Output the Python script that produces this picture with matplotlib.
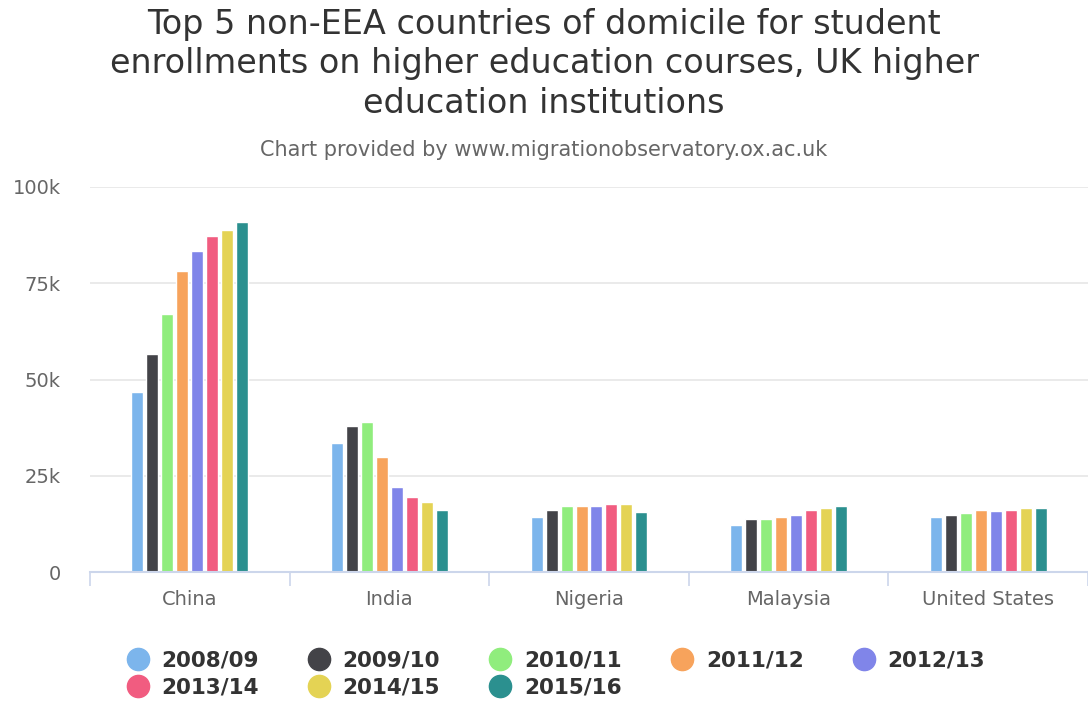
import matplotlib.pyplot as plt
import numpy as np
from matplotlib.lines import Line2D

countries = ['China', 'India', 'Nigeria', 'Malaysia', 'United States']
years = ['2008/09', '2009/10', '2010/11', '2011/12', '2012/13', '2013/14', '2014/15', '2015/16']

# values in thousands, one list per academic year
y0809 = [46.8, 33.6, 14.2, 12.3, 14.2]
y0910 = [56.5, 38.0, 16.2, 13.8, 14.8]
y1011 = [67.1, 39.0, 17.1, 13.8, 15.2]
y1112 = [78.3, 29.8, 17.1, 14.2, 16.2]
y1213 = [83.5, 22.0, 17.1, 14.7, 15.8]
y1314 = [87.4, 19.6, 17.7, 16.1, 16.2]
y1415 = [88.9, 18.1, 17.7, 16.6, 16.6]
y1516 = [90.8, 16.2, 15.7, 17.1, 16.6]
series = [y0809, y0910, y1011, y1112, y1213, y1314, y1415, y1516]

yticks = [0, 25, 50, 75, 100]
ytick_labels = ['0', '25k', '50k', '75k', '100k']

colors = ['#7cb5ec', '#434348', '#90ed7d', '#f7a35c', '#8085e9', '#f15c80', '#e4d354', '#2b908f']

plt.rcParams['font.family'] = ['DejaVu Sans']

fig = plt.figure(figsize=(10.88, 7.02), dpi=100)
ax = fig.add_axes([90/1088, 1-572/702, 998/1088, 385/702])

n = len(series)
group = 0.6
slot = group / n
x = np.arange(len(countries))
for i, vals in enumerate(series):
    xpos = x - group/2 + slot*(i + 0.5)
    ax.bar(xpos, vals, width=slot*0.8, color=colors[i], edgecolor='white', linewidth=1, zorder=3)

ax.set_xlim(-0.5, len(countries) - 0.5)
ax.set_ylim(0, 100)
ax.set_yticks(yticks)
ax.set_yticklabels(ytick_labels)
ax.yaxis.grid(True, color='#e6e6e6', linewidth=1.2, zorder=0)
ax.tick_params(axis='y', length=0, pad=21, labelsize=14, labelcolor='#666666')

ax.set_xticks(x)
ax.set_xticklabels(countries)
ax.set_xticks(np.arange(-0.5, len(countries)), minor=True)
ax.tick_params(axis='x', which='major', length=0, pad=13, labelsize=14, labelcolor='#666666')
ax.tick_params(axis='x', which='minor', length=10, color='#ccd6eb', width=1.2)

for s in ['top', 'right', 'left']:
    ax.spines[s].set_visible(False)
ax.spines['bottom'].set_color('#ccd6eb')
ax.spines['bottom'].set_linewidth(1.5)
ax.spines['bottom'].set_zorder(4)

fig.text(0.5, 1-64/702, 'Top 5 non-EEA countries of domicile for student\nenrollments on higher education courses, UK higher\neducation institutions',
         ha='center', va='center', fontsize=24, color='#333333', linespacing=1.25)
fig.text(0.5, 1-150/702, 'Chart provided by www.migrationobservatory.ox.ac.uk',
         ha='center', va='center', fontsize=15, color='#666666')

handles = [Line2D([], [], marker='o', linestyle='none', markersize=16, markerfacecolor=c, markeredgecolor=c) for c in colors]
order = [0, 5, 1, 6, 2, 7, 3, 4]
leg = fig.legend([handles[i] for i in order], [years[i] for i in order], ncol=5,
                 loc='center', bbox_to_anchor=(0.51, 1-674/702), frameon=False,
                 prop={'weight': 'bold', 'size': 15.5}, handletextpad=0.5, columnspacing=2.2,
                 labelspacing=0.3, handlelength=1.2, borderpad=0)
for t in leg.get_texts():
    t.set_color('#333333')

fig.savefig('out.png', dpi=100)
